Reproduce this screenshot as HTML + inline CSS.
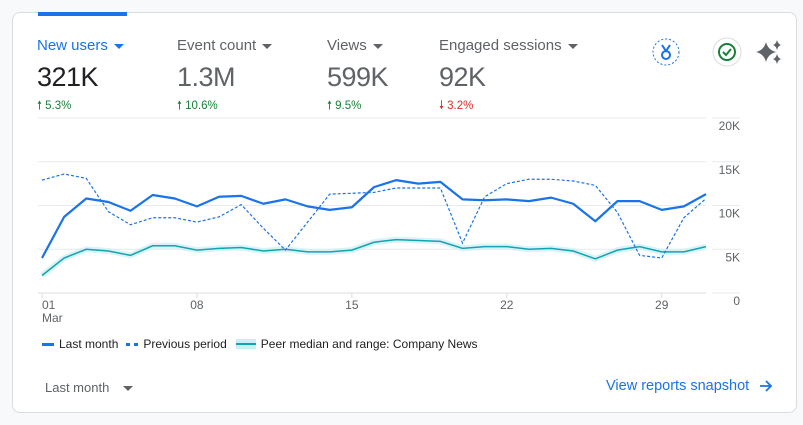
<!DOCTYPE html>
<html><head><meta charset="utf-8"><style>
body{margin:0;width:803px;height:425px;background:#f8f9fa;font-family:"Liberation Sans",sans-serif;position:relative;overflow:hidden}
.card{position:absolute;left:12px;top:12px;width:783px;height:399px;background:#fff;border:1px solid #dadce0;border-radius:8px}
.tab{position:absolute;left:38px;top:12px;width:89px;height:4px;background:#1a73e8}
.m{position:absolute;top:37px}
.m .l{font-size:15px;color:#5f6368;white-space:nowrap}
.m .v{font-size:27px;color:#5f6368;margin-top:8px;letter-spacing:-0.5px}
.m .c{font-size:11.5px;color:#188038;margin-top:5px}
.car{display:inline-block;width:0;height:0;border-left:5px solid transparent;border-right:5px solid transparent;border-top:5px solid currentColor;margin-left:6px;vertical-align:middle}
.t{position:absolute;font-size:12px;color:#5f6368}
</style></head><body>
<div class="card"></div>
<div class="tab"></div>
<div class="m" style="left:37px"><div class="l" style="color:#1a73e8">New users<span class="car"></span></div><div class="v" style="color:#202124">321K</div><div class="c">🠕 5.3%</div></div>
<div class="m" style="left:177px"><div class="l">Event count<span class="car"></span></div><div class="v">1.3M</div><div class="c">🠕 10.6%</div></div>
<div class="m" style="left:327px"><div class="l">Views<span class="car"></span></div><div class="v">599K</div><div class="c">🠕 9.5%</div></div>
<div class="m" style="left:439px"><div class="l">Engaged sessions<span class="car"></span></div><div class="v">92K</div><div class="c" style="color:#d93025">🠗 3.2%</div></div>
<svg style="position:absolute;left:650px;top:36px" width="140" height="32">
<g><circle cx="16" cy="16" r="13" fill="#fff" stroke="#1a73e8" stroke-dasharray="2 2"/><circle cx="16" cy="19" r="4" fill="none" stroke="#1a73e8" stroke-width="2"/><path d="M12 9 L16 15 L20 9" fill="none" stroke="#1a73e8" stroke-width="2"/></g>
<g><circle cx="77" cy="16" r="14" fill="#fff" stroke="#dadce0"/><circle cx="77" cy="16" r="8" fill="none" stroke="#188038" stroke-width="2"/><path d="M73 16 L76 19 L81 13" fill="none" stroke="#188038" stroke-width="2"/></g>
<g fill="#5f6368"><path d="M116 6 Q118 14 126 16 Q118 18 116 26 Q114 18 106 16 Q114 14 116 6Z"/><path d="M127 4 Q128 8 131 9 Q128 10 127 14 Q126 10 123 9 Q126 8 127 4Z"/><path d="M127 18 Q128 22 131 23 Q128 24 127 28 Q126 24 123 23 Q126 22 127 18Z"/></g>
</svg>
<svg id="ch" style="position:absolute;left:0;top:0" width="803" height="425"></svg>
<div class="t" style="left:42px;top:337px;color:#202124;font-size:12px;display:flex;align-items:center">
<span style="display:flex;align-items:center"><span style="width:12px;height:3px;background:#1a73e8;margin-right:5px"></span>Last month</span>
<span style="display:flex;align-items:center;margin-left:8px"><span style="width:4px;height:3px;background:#1a73e8;margin-right:4px"></span><span style="width:4px;height:3px;background:#1a73e8;margin-right:5px"></span>Previous period</span>
<span style="display:flex;align-items:center;margin-left:9px"><span style="width:20px;height:10px;background:#c9eef3;position:relative;margin-right:5px"><span style="position:absolute;left:0;top:4px;width:20px;height:2px;background:#12a4af"></span></span>Peer median and range: Company News</span>
</div>
<div class="t" style="left:45px;top:380px;font-size:13px">Last month<span class="car" style="margin-left:14px"></span></div>
<div class="t" style="left:606px;top:378px;font-size:14.5px;color:#1a73e8;display:flex;align-items:center">View reports snapshot <svg width="14" height="14" style="margin-left:10px" viewBox="0 0 14 14"><path d="M1 7H12M7 2L12 7L7 12" fill="none" stroke="#1a73e8" stroke-width="1.8"/></svg></div>
<script>
const days=[1,2,3,4,5,6,7,8,9,10,11,12,13,14,15,16,17,18,19,20,21,22,23,24,25,26,27,28,29,30,31];
const lastMonth=[4.0,8.7,10.8,10.4,9.4,11.2,10.8,9.9,11.0,11.1,10.2,10.7,9.9,9.5,9.8,12.1,12.9,12.5,12.7,10.7,10.6,10.7,10.5,10.9,10.2,8.2,10.5,10.5,9.5,9.9,11.3];
const previousPeriod=[12.9,13.6,13.1,9.3,7.8,8.6,8.6,8.1,8.7,10.1,7.4,4.9,8.1,11.3,11.4,11.5,12.0,12.0,12.0,5.7,11.0,12.5,13.0,13.0,12.8,12.3,9.2,4.3,4.0,8.6,10.8];
const peerMedian=[2.0,4.0,5.0,4.8,4.3,5.4,5.4,4.9,5.1,5.2,4.8,5.0,4.7,4.7,4.9,5.8,6.1,6.0,5.9,5.1,5.3,5.3,5.0,5.1,4.8,3.9,4.9,5.3,4.7,4.7,5.3];
const yTicks=[0,5,10,15,20];
const yTickLabels=["0","5K","10K","15K","20K"];
const xTicks=[1,8,15,22,29];
const xTickLabels=["01","08","15","22","29"];
const NS="http://www.w3.org/2000/svg";
const svg=document.getElementById('ch');
const X=d=>42+(d-1)*(664/30);
const Y=v=>293-v*8.75;
function el(t,a){const e=document.createElementNS(NS,t);for(const k in a)e.setAttribute(k,a[k]);svg.appendChild(e);return e;}
yTicks.forEach((v,i)=>{
 const g=el('line',{x1:38,x2:706,y1:Y(v),y2:Y(v),stroke:v===0?'#dadce0':'#e8eaed','stroke-width':1});
 
 
 const s=el('line',{x1:712,x2:740,y1:Y(v),y2:Y(v),stroke:'#e8eaed'});
 
 
 const t=el('text',{x:740,y:Y(v)+12,'text-anchor':'end','font-size':12,fill:'#5f6368','font-family':'Liberation Sans'});
 t.textContent=yTickLabels[i];
 
 
});
xTicks.forEach((d,i)=>{
 const m=el('line',{x1:X(d),x2:X(d),y1:293,y2:298,stroke:'#dadce0'});
 
 
 const t=el('text',{x:X(d),y:309,'text-anchor':d===1?'start':'middle','font-size':12,fill:'#5f6368','font-family':'Liberation Sans'});
 t.textContent=xTickLabels[i];
 
 
});
const mt=el('text',{x:42,y:322,'font-size':12,fill:'#5f6368','font-family':'Liberation Sans'});
mt.textContent='Mar';


const pts=a=>a.map((v,i)=>X(days[i])+','+Y(v)).join(' ');
const band=el('polyline',{points:pts(peerMedian),fill:'none',stroke:'#c9eef3','stroke-width':6,'stroke-linejoin':'round','stroke-opacity':0.7});


const pm=el('polyline',{points:pts(peerMedian),fill:'none',stroke:'#12a4af','stroke-width':1.5});


const pp=el('polyline',{points:pts(previousPeriod),fill:'none',stroke:'#1a73e8','stroke-width':1.2,'stroke-dasharray':'3 2'});


const lm=el('polyline',{points:pts(lastMonth),fill:'none',stroke:'#1a73e8','stroke-width':2.2,'stroke-linejoin':'round'});


</script>
</body></html>
